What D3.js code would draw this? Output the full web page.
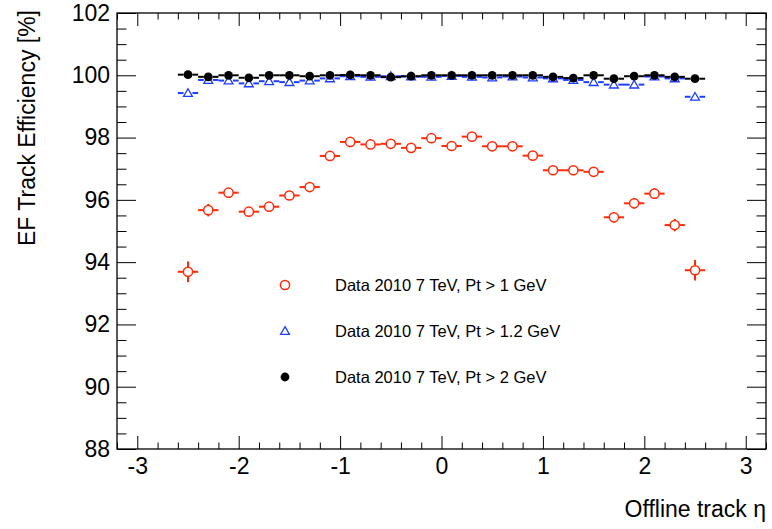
<!DOCTYPE html>
<html>
<head>
<meta charset="utf-8">
<script src="https://cdn.jsdelivr.net/npm/d3@7"></script>
<style>
  body { margin: 0; background: #fff; }
  svg { display: block; font-family: "Liberation Sans", Arial, Helvetica, sans-serif; }
</style>
</head>
<body>
<svg id="chart" width="772" height="529"></svg>
<script>
// eta bin centres (bin width 0.2)
var etaBins = [-2.5, -2.3, -2.1, -1.9, -1.7, -1.5, -1.3, -1.1, -0.9, -0.7, -0.5, -0.3, -0.1,
                0.1, 0.3, 0.5, 0.7, 0.9, 1.1, 1.3, 1.5, 1.7, 1.9, 2.1, 2.3, 2.5];

// Pt > 1 GeV (red open circles)
var effPt1 = [93.69, 95.67, 96.23, 95.62, 95.78, 96.14, 96.41, 97.41, 97.86, 97.78, 97.80, 97.67, 97.98,
              97.73, 98.03, 97.72, 97.72, 97.42, 96.95, 96.95, 96.90, 95.44, 95.89, 96.20, 95.19, 93.74];
var errPt1 = [0.33, 0.2, 0.12, 0.12, 0.1, 0.1, 0.1, 0.08, 0.08, 0.08, 0.08, 0.08, 0.08,
              0.08, 0.08, 0.08, 0.08, 0.08, 0.1, 0.1, 0.1, 0.17, 0.17, 0.17, 0.2, 0.33];

// Pt > 1.2 GeV (blue open triangles)
var effPt12 = [99.43, 99.85, 99.83, 99.74, 99.81, 99.78, 99.83, 99.90, 99.97, 99.95, 99.97, 99.96, 99.95,
               99.98, 99.95, 99.93, 99.96, 99.93, 99.90, 99.85, 99.78, 99.70, 99.70, 99.96, 99.90, 99.31];

// Pt > 2 GeV (black filled circles)
var effPt2 = [100.02, 99.95, 100.0, 99.92, 100.0, 100.0, 99.97, 100.0, 100.01, 100.0, 99.94, 99.97, 100.0,
              100.0, 100.0, 100.0, 100.0, 100.0, 99.95, 99.91, 100.0, 99.89, 99.97, 100.0, 99.95, 99.89];
var errSmall = 0.03;
var binHalfWidth = 0.1;

var xTicks = [-3, -2, -1, 0, 1, 2, 3];
var yTicks = [88, 90, 92, 94, 96, 98, 100, 102];
var legendLabels = ['Data 2010 7 TeV, Pt > 1 GeV', 'Data 2010 7 TeV, Pt > 1.2 GeV', 'Data 2010 7 TeV, Pt > 2 GeV'];

var RED = '#ff2a0a', BLUE = '#1f3dff', BLACK = '#000';

var frame = {left: 117, right: 766, top: 13, bottom: 449};
var svg = d3.select('#chart');

var x = d3.scaleLinear().domain([-3.2, 3.2]).range([frame.left, frame.right]);
var y = d3.scaleLinear().domain([88, 102]).range([frame.bottom, frame.top]);

var xMinor = d3.range(-3.2, 3.21, 0.2).map(function(d){ return Math.round(d*10)/10; })
  .filter(function(d){ return xTicks.indexOf(d) < 0; });
var yMinor = d3.range(88, 102.01, 0.5).filter(function(d){ return yTicks.indexOf(d) < 0; });

var xLen = 13, yLen = 19;
var plainFmt = function(d){ return String(d); }; // plain hyphen minus like ROOT

function styleAxis(g){
  g.select('.domain').remove();
  g.selectAll('line').attr('stroke', '#000').attr('stroke-width', 1);
  g.selectAll('text').attr('fill', '#000').attr('font-size', 23)
    .attr('font-family', '"Liberation Sans", Arial, sans-serif');
}

// bottom axis (labels) + minor
svg.append('g').attr('transform', 'translate(0,' + frame.bottom + ')')
  .call(d3.axisBottom(x).tickValues(xTicks).tickSize(-xLen).tickPadding(9).tickFormat(plainFmt))
  .call(styleAxis);
svg.append('g').attr('transform', 'translate(0,' + frame.bottom + ')')
  .call(d3.axisBottom(x).tickValues(xMinor).tickSize(-xLen/2).tickFormat(''))
  .call(styleAxis);
// top axis
svg.append('g').attr('transform', 'translate(0,' + frame.top + ')')
  .call(d3.axisTop(x).tickValues(xTicks).tickSize(-xLen).tickFormat(''))
  .call(styleAxis);
svg.append('g').attr('transform', 'translate(0,' + frame.top + ')')
  .call(d3.axisTop(x).tickValues(xMinor).tickSize(-xLen/2).tickFormat(''))
  .call(styleAxis);
// left axis
svg.append('g').attr('transform', 'translate(' + frame.left + ',0)')
  .call(d3.axisLeft(y).tickValues(yTicks).tickSize(-yLen).tickPadding(7).tickFormat(plainFmt))
  .call(styleAxis);
svg.append('g').attr('transform', 'translate(' + frame.left + ',0)')
  .call(d3.axisLeft(y).tickValues(yMinor).tickSize(-yLen/2).tickFormat(''))
  .call(styleAxis);
// right axis
svg.append('g').attr('transform', 'translate(' + frame.right + ',0)')
  .call(d3.axisRight(y).tickValues(yTicks).tickSize(-yLen).tickFormat(''))
  .call(styleAxis);
svg.append('g').attr('transform', 'translate(' + frame.right + ',0)')
  .call(d3.axisRight(y).tickValues(yMinor).tickSize(-yLen/2).tickFormat(''))
  .call(styleAxis);

// frame
svg.append('rect')
  .attr('x', frame.left).attr('y', frame.top)
  .attr('width', frame.right - frame.left).attr('height', frame.bottom - frame.top)
  .attr('fill', 'none').attr('stroke', '#000').attr('stroke-width', 1.3);

// axis titles
svg.append('text')
  .attr('transform', 'translate(35,' + 10 + ') rotate(-90)')
  .attr('text-anchor', 'end')
  .attr('font-size', 23)
  .text('EF Track Efficiency [%]');
svg.append('text')
  .attr('x', frame.right).attr('y', 517)
  .attr('text-anchor', 'end')
  .attr('font-size', 23)
  .text('Offline track \u03b7');

// error bars with a gap around the marker (ROOT style)
function drawErrors(vals, errs, color, gap){
  var g = svg.append('g').attr('stroke', color).attr('stroke-width', 2);
  etaBins.forEach(function(eta, i){
    var cx = x(eta), cy = y(vals[i]);
    var e = Array.isArray(errs) ? errs[i] : errs;
    g.append('line').attr('x1', x(eta - binHalfWidth)).attr('x2', cx - gap).attr('y1', cy).attr('y2', cy);
    g.append('line').attr('x1', cx + gap).attr('x2', x(eta + binHalfWidth)).attr('y1', cy).attr('y2', cy);
    var up = y(vals[i] + e), dn = y(vals[i] - e);
    if (cy - up > gap) {
      g.append('line').attr('x1', cx).attr('x2', cx).attr('y1', up).attr('y2', cy - gap);
      g.append('line').attr('x1', cx).attr('x2', cx).attr('y1', cy + gap).attr('y2', dn);
    }
  });
}

var triangle = d3.symbol().type(d3.symbolTriangle).size(34);

function openCircle(g, cx, cy){
  g.append('circle').attr('cx', cx).attr('cy', cy).attr('r', 4.6)
    .attr('fill', '#fff').attr('stroke', RED).attr('stroke-width', 1.5);
}
function openTriangle(g, cx, cy){
  g.append('path').attr('d', triangle).attr('transform', 'translate(' + cx + ',' + (cy + 0.8) + ')')
    .attr('fill', '#fff').attr('stroke', BLUE).attr('stroke-width', 1.3);
}
function filledDot(g, cx, cy){
  g.append('circle').attr('cx', cx).attr('cy', cy).attr('r', 4.4).attr('fill', BLACK);
}

// red series
drawErrors(effPt1, errPt1, RED, 4.6);
var gRed = svg.append('g');
etaBins.forEach(function(eta, i){ openCircle(gRed, x(eta), y(effPt1[i])); });

// blue series
drawErrors(effPt12, errSmall, BLUE, 4.5);
var gBlue = svg.append('g');
etaBins.forEach(function(eta, i){ openTriangle(gBlue, x(eta), y(effPt12[i])); });

// black series
drawErrors(effPt2, errSmall, BLACK, 4.4);
var gBlack = svg.append('g');
etaBins.forEach(function(eta, i){ filledDot(gBlack, x(eta), y(effPt2[i])); });

// legend
var legendY = [285, 331, 377];
var markerFns = [openCircle, openTriangle, filledDot];
var gLeg = svg.append('g');
legendLabels.forEach(function(lbl, i){
  markerFns[i](gLeg, 285, legendY[i]);
  gLeg.append('text').attr('x', 335).attr('y', legendY[i] + 6)
    .attr('font-size', 16.5).attr('fill', '#000').text(lbl);
});
</script>
</body>
</html>
